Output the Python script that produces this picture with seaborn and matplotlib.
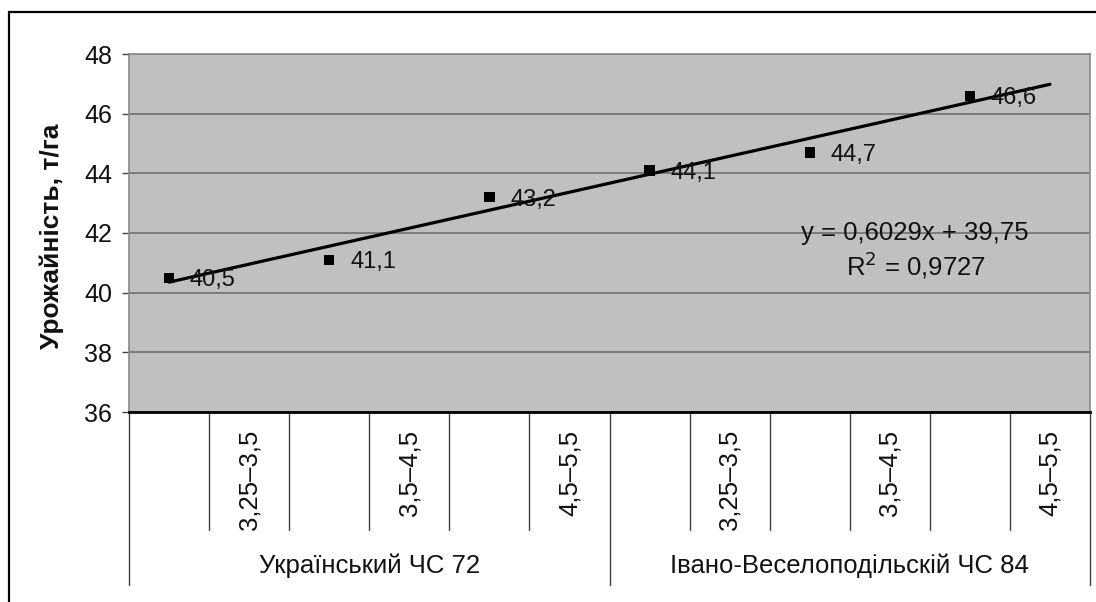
import numpy as np
import pandas as pd
import matplotlib
matplotlib.use("Agg")
import matplotlib.pyplot as plt
from matplotlib.patches import Rectangle
import seaborn as sns

# Yield by cultivar and interval (categories 0..11, values on even slots)
groups = ["Український ЧС 72", "Івано-Веселоподільскій ЧС 84"]
intervals = ["3,25–3,5", "3,5–4,5", "4,5–5,5"]
positions = [0, 2, 4, 6, 8, 10]
yields = [40.5, 41.1, 43.2, 44.1, 44.7, 46.6]
value_labels = ["40,5", "41,1", "43,2", "44,1", "44,7", "46,6"]

# Linear trend (x counted from 1 over the 12 category slots)
slope = 0.6029
intercept = 39.75
eq_label = "y = 0,6029x + 39,75"
r2_label = "R$^2$ = 0,9727"

y_ticks = [36, 38, 40, 42, 44, 46, 48]
n_slots = 12

sns.set_style("white")
plt.rcParams["font.family"] = ["Liberation Sans", "DejaVu Sans"]

W, H = 1096, 602
fig = plt.figure(figsize=(W / 100, H / 100), dpi=100)
ax = fig.add_axes([129 / W, 1 - 412 / H, (1090 - 129) / W, (412 - 54) / H])
ax.set_facecolor("#c0c0c0")

df = pd.DataFrame({"pos": positions, "yield": yields})
trend_x = np.arange(0, n_slots)
trend = pd.DataFrame({"pos": trend_x, "fit": slope * (trend_x + 1) + intercept})

ax.set_xlim(-0.5, n_slots - 0.5)
ax.set_ylim(36, 48)
ax.set_yticks(y_ticks)
ax.yaxis.grid(True, color="#707070", linewidth=1.2)
ax.set_axisbelow(True)

sns.lineplot(data=trend, x="pos", y="fit", color="black", linewidth=2.3, ax=ax, zorder=3)
sns.scatterplot(data=df, x="pos", y="yield", marker="s", s=55, color="black",
                edgecolor="none", ax=ax, zorder=4)

for x, y, t in zip(positions, yields, value_labels):
    ax.annotate(t, xy=(x, y), xytext=(15, 0), textcoords="offset points",
                ha="left", va="center_baseline", fontsize=17, color="#111111", zorder=5)

ax.text(9.31, 42.0, eq_label, ha="center", va="center", fontsize=18.5, color="#111111")
ax.text(9.33, 40.93, r2_label, ha="center", va="center", fontsize=18.5, color="#111111")

ax.set_xlabel("")
ax.set_ylabel("")
ax.set_xticks([])
ax.tick_params(axis="y", direction="out", length=5, width=1, color="#444444",
               labelsize=18, pad=7, labelcolor="#111111", left=True)

for side in ["top", "right", "left"]:
    ax.spines[side].set_color("#8a8a8a")
    ax.spines[side].set_linewidth(1.2)
ax.spines["bottom"].set_color("black")
ax.spines["bottom"].set_linewidth(2)

# Two-level category axis below the plot
xt = ax.get_xaxis_transform()
axes_h = 412 - 54
for b in np.arange(-0.5, n_slots, 1.0):
    long_line = b in (-0.5, 5.5, 11.5)
    depth = (585 - 412) / axes_h if long_line else (530 - 412) / axes_h
    ax.plot([b, b], [0, -depth], transform=xt, color="#404040", linewidth=1,
            clip_on=False)

for g, gname in enumerate(groups):
    for k, lab in enumerate(intervals):
        slot = g * 6 + 2 * k + 1
        ax.annotate(lab, xy=(slot, 0), xycoords=xt, xytext=(0, -13),
                    textcoords="offset points", rotation=90, ha="center", va="top",
                    fontsize=18.5, color="#111111", annotation_clip=False)
    ax.annotate(gname, xy=(g * 6 + 2.5, 0), xycoords=xt, xytext=(0, -111),
                textcoords="offset points", ha="center", va="center",
                fontsize=18.5, color="#111111", annotation_clip=False)

fig.text(52 / W, 1 - 236 / H, "Урожайність, т/га", rotation=90, ha="center",
         va="center", fontsize=19, fontweight="bold", color="#111111")

# Outer chart frame
fig.patches.append(Rectangle((9 / W, -0.05), 1.2, 1 - 12 / H + 0.05,
                             transform=fig.transFigure, fill=False,
                             edgecolor="black", linewidth=1.6))

fig.savefig("out.png", dpi=100)
